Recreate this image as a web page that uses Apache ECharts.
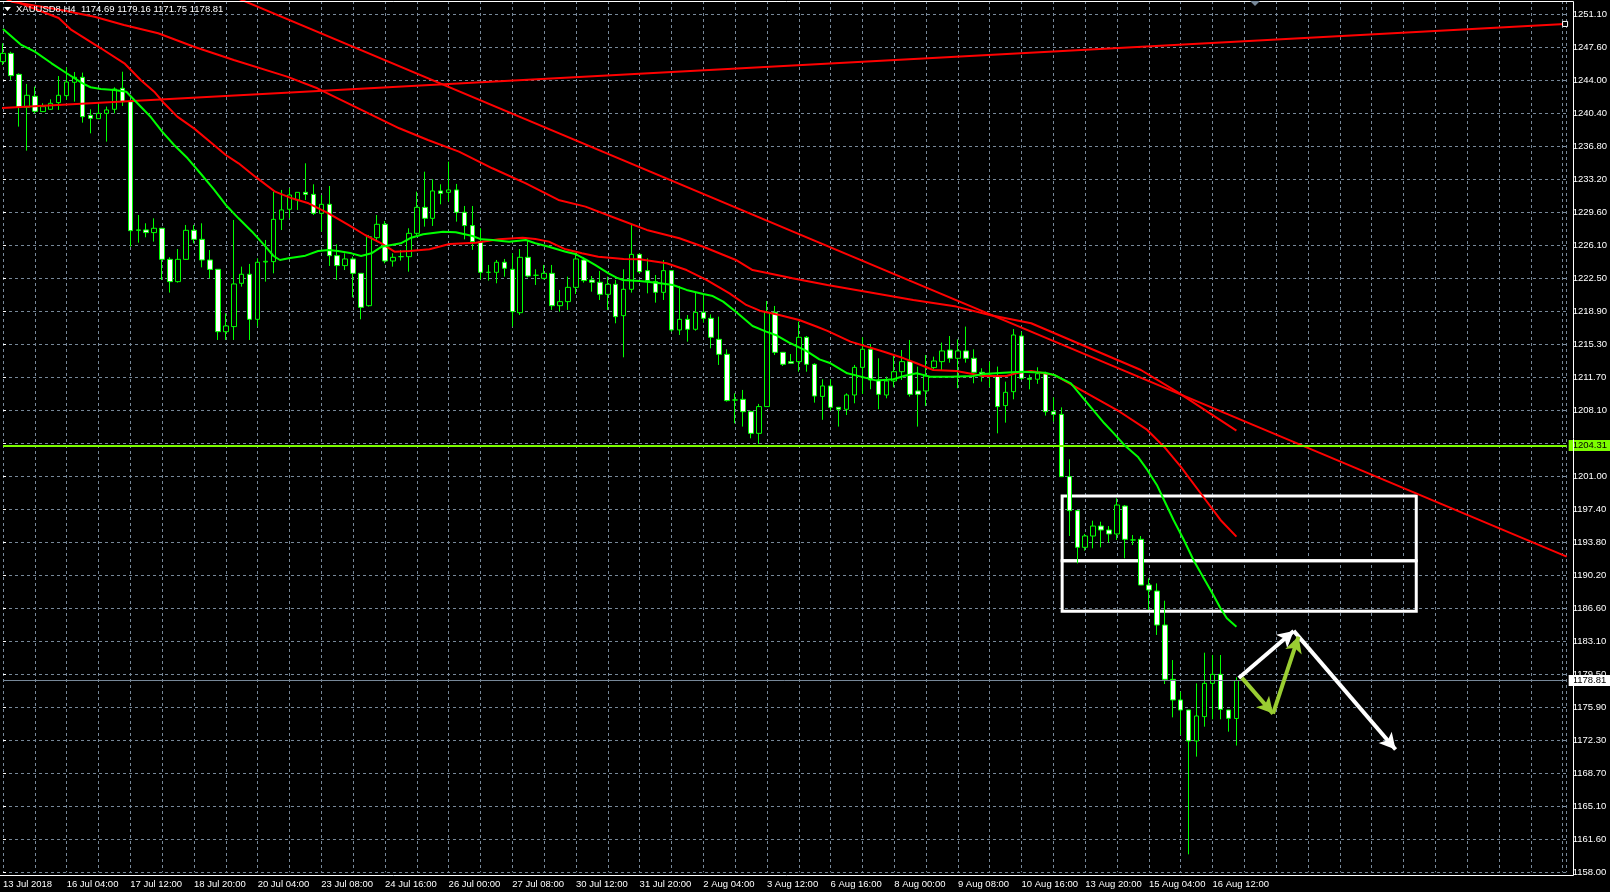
<!DOCTYPE html>
<html><head><meta charset="utf-8">
<script src="https://cdn.jsdelivr.net/npm/echarts@6/dist/echarts.min.js"></script>
<style>html,body{margin:0;padding:0;background:#000;overflow:hidden}#c{width:1610px;height:892px}</style>
</head><body><div id="c"></div>
<script>
// ---------- data ----------
const xLabels = ["13 Jul 2018","16 Jul 04:00","17 Jul 12:00","18 Jul 20:00","20 Jul 04:00","23 Jul 08:00","24 Jul 16:00","26 Jul 00:00","27 Jul 08:00","30 Jul 12:00","31 Jul 20:00","2 Aug 04:00","3 Aug 12:00","6 Aug 16:00","8 Aug 00:00","9 Aug 08:00","10 Aug 16:00","13 Aug 20:00","15 Aug 04:00","16 Aug 12:00"];
const yLabels = ["1158.00","1161.60","1165.10","1168.70","1172.30","1175.90","1179.50","1183.10","1186.60","1190.20","1193.80","1197.40","1201.00","1204.50","1208.10","1211.70","1215.30","1218.90","1222.50","1226.10","1229.60","1233.20","1236.80","1240.40","1244.00","1247.60","1251.10"];
const Y_MIN = 1158.0, Y_STEP = 93.1 / 26, Y_MAX = 1252.54;

const opens = [1245.96,1246.86,1244.58,1241.00,1242.20,1240.54,1240.79,1241.51,1242.27,1243.72,1244.26,1240.14,1239.77,1240.35,1240.79,1243.07,1241.62,1227.66,1227.70,1227.41,1227.88,1224.51,1222.09,1224.51,1227.66,1226.68,1224.44,1223.43,1216.66,1217.21,1221.91,1222.89,1218.00,1224.22,1224.26,1228.85,1229.94,1230.95,1231.78,1231.56,1229.50,1230.48,1224.91,1223.83,1224.55,1222.99,1219.48,1226.86,1228.31,1224.33,1224.80,1224.80,1227.33,1230.15,1228.96,1231.93,1231.78,1232.04,1229.61,1228.17,1226.43,1223.10,1223.10,1224.19,1223.43,1218.72,1224.73,1222.78,1222.45,1222.99,1219.48,1219.92,1221.47,1224.44,1222.27,1222.02,1220.71,1221.80,1218.40,1221.26,1225.05,1223.28,1222.09,1220.93,1223.28,1216.85,1218.00,1216.92,1218.76,1218.11,1215.83,1214.20,1209.25,1209.32,1207.98,1205.63,1208.53,1218.76,1214.42,1213.41,1213.41,1216.05,1213.12,1209.64,1210.77,1208.45,1208.24,1209.79,1212.79,1214.75,1211.42,1209.79,1211.31,1212.32,1213.41,1210.23,1210.23,1212.76,1213.41,1214.67,1213.77,1214.57,1213.77,1212.25,1211.93,1211.85,1208.64,1210.15,1216.19,1211.60,1211.50,1212.14,1207.98,1207.69,1200.93,1197.24,1193.26,1194.49,1195.57,1195.14,1194.71,1197.74,1194.06,1194.13,1189.17,1188.52,1184.83,1178.94,1176.70,1175.61,1172.25,1174.89,1178.50,1179.48,1175.61,1174.69];
const closes = [1246.86,1244.44,1241.00,1242.31,1240.57,1241.08,1241.44,1242.31,1243.75,1244.26,1239.99,1239.81,1240.35,1240.72,1242.99,1241.62,1227.62,1227.70,1227.41,1227.88,1224.51,1222.09,1224.51,1227.66,1226.68,1224.44,1223.42,1216.66,1217.28,1221.84,1222.89,1218.00,1224.19,1224.30,1228.85,1229.87,1231.49,1231.78,1231.56,1229.50,1230.48,1224.91,1223.83,1224.55,1222.99,1219.30,1226.97,1228.31,1224.33,1224.73,1224.80,1227.33,1230.15,1228.96,1231.93,1231.67,1232.04,1229.61,1228.17,1226.43,1223.10,1223.10,1224.19,1223.54,1218.83,1224.73,1222.70,1222.78,1222.99,1219.48,1219.92,1221.47,1224.55,1222.20,1222.02,1220.71,1221.80,1218.29,1221.26,1225.05,1223.17,1222.20,1220.93,1223.28,1216.85,1218.00,1216.92,1218.76,1218.11,1216.05,1214.20,1209.18,1209.25,1207.98,1205.63,1208.53,1218.76,1214.42,1213.12,1213.23,1216.05,1213.12,1209.68,1210.77,1208.45,1208.24,1209.79,1212.79,1214.75,1211.42,1209.86,1211.31,1212.32,1213.41,1209.86,1209.86,1211.85,1213.48,1214.57,1213.77,1214.57,1213.77,1212.25,1211.85,1211.93,1208.53,1210.08,1216.30,1211.60,1211.49,1212.10,1207.98,1207.69,1200.93,1197.24,1193.26,1194.49,1195.57,1195.14,1194.71,1197.85,1194.13,1194.06,1189.17,1188.63,1184.83,1178.94,1176.70,1175.61,1172.25,1174.96,1178.50,1179.48,1175.68,1174.71,1178.81];
const lows = [1245.60,1243.97,1238.91,1236.30,1240.35,1240.54,1240.72,1240.72,1241.80,1241.62,1239.34,1238.18,1239.77,1237.28,1240.35,1241.15,1225.89,1226.32,1226.90,1226.43,1222.27,1220.90,1221.98,1224.44,1226.25,1223.64,1222.45,1215.76,1215.76,1215.76,1221.55,1215.76,1217.21,1222.09,1222.99,1227.69,1228.96,1229.87,1230.95,1229.32,1227.51,1223.79,1222.27,1223.35,1220.39,1218.00,1219.38,1226.61,1224.08,1223.72,1224.37,1223.17,1227.15,1228.06,1228.13,1230.48,1230.77,1228.60,1226.68,1225.53,1222.34,1222.20,1221.91,1222.63,1217.21,1218.47,1222.56,1221.73,1222.34,1219.02,1218.83,1219.02,1220.75,1221.98,1221.00,1220.10,1219.02,1217.57,1213.88,1220.90,1222.99,1220.82,1219.81,1220.10,1216.66,1216.30,1215.58,1216.77,1217.64,1214.86,1213.05,1209.07,1206.72,1206.36,1205.09,1204.48,1208.53,1214.13,1212.94,1213.23,1212.32,1212.32,1208.96,1207.10,1208.09,1206.36,1207.62,1208.89,1209.90,1210.41,1208.24,1209.43,1210.62,1211.42,1209.61,1206.36,1208.60,1212.58,1212.50,1213.30,1210.52,1213.30,1211.06,1211.24,1210.62,1205.63,1206.79,1209.32,1211.42,1210.40,1211.00,1207.55,1206.89,1200.93,1194.49,1191.52,1192.90,1193.15,1193.26,1193.77,1194.06,1192.07,1193.51,1189.17,1186.46,1183.75,1178.43,1174.81,1172.90,1159.95,1170.55,1173.80,1174.60,1174.60,1173.26,1171.75];
const highs = [1247.95,1247.04,1244.69,1243.54,1243.25,1241.44,1241.87,1244.40,1245.35,1244.84,1244.77,1240.79,1241.37,1241.08,1243.17,1244.87,1241.73,1229.32,1228.42,1228.96,1227.88,1224.73,1225.63,1228.24,1228.24,1228.42,1225.52,1223.43,1218.65,1228.78,1223.72,1224.01,1224.62,1226.61,1231.85,1232.04,1232.22,1231.78,1234.93,1232.65,1231.49,1232.47,1226.14,1225.16,1224.80,1222.99,1227.15,1229.32,1228.67,1225.16,1225.53,1227.88,1231.85,1234.02,1233.19,1232.65,1235.11,1232.69,1230.30,1230.30,1227.88,1223.90,1224.44,1224.55,1225.16,1225.63,1226.61,1223.43,1223.90,1223.90,1221.19,1222.63,1225.16,1224.73,1222.70,1223.25,1222.63,1222.27,1223.43,1228.24,1225.16,1224.62,1222.81,1224.44,1223.35,1221.62,1218.47,1220.90,1220.64,1218.54,1218.29,1214.75,1209.97,1210.34,1208.09,1208.82,1219.99,1219.45,1214.42,1214.24,1217.75,1216.19,1213.23,1211.49,1211.49,1208.45,1209.97,1213.05,1216.05,1215.33,1213.77,1211.78,1214.13,1214.67,1215.76,1212.87,1214.13,1213.95,1215.47,1216.19,1215.83,1217.21,1214.75,1212.69,1213.41,1212.87,1211.24,1216.95,1216.66,1212.00,1212.80,1212.32,1209.53,1208.45,1202.81,1197.24,1194.71,1196.15,1196.04,1195.57,1198.58,1197.85,1194.60,1194.49,1189.90,1189.35,1187.47,1181.03,1177.60,1175.61,1178.50,1181.83,1181.58,1181.58,1175.61,1179.16];

// moving averages: [bar, price]
const maFastGreen = [[0,1249.5],[2.3,1247.77],[4,1247.04],[6.1,1245.78],[8,1244.70],[10,1243.61],[11,1243.18],[12.3,1243.0],[14,1242.89],[15.5,1242.70],[16.5,1241.8],[18.6,1239.92],[20,1238.36],[21.5,1236.92],[23.2,1235.47],[24.8,1233.85],[26.5,1232.11],[28,1230.41],[29.6,1228.96],[31.3,1227.51],[33,1225.88],[34,1224.87],[34.8,1224.44],[35.9,1224.62],[38,1224.91],[39.6,1225.41],[40.9,1225.52],[42.1,1225.41],[43.8,1225.16],[45,1224.87],[46.3,1225.16],[47.6,1225.88],[48.8,1226.07],[50,1226.25],[51.3,1226.86],[52.8,1227.23],[55.3,1227.51],[56.9,1227.44],[59,1227.04],[60.1,1226.68],[61.5,1226.61],[63.6,1226.43],[65.7,1226.61],[66.9,1226.25],[68.6,1225.88],[70.7,1225.34],[71.9,1225.09],[73.2,1224.51],[74.4,1223.90],[76.1,1222.99],[77.1,1222.52],[77.9,1222.27],[80,1222.16],[82.1,1221.98],[84.2,1221.73],[85.9,1221.19],[88,1220.75],[89.2,1220.53],[90.5,1219.92],[92.1,1218.83],[94.2,1217.28],[95.9,1216.66],[97.1,1216.30],[98.8,1215.47],[100.9,1214.60],[102.6,1213.66],[104,1213.23],[106.1,1212.14],[107.8,1211.78],[109.8,1211.35],[111.9,1211.49],[113.2,1211.85],[114.8,1212.14],[116.5,1211.78],[119,1211.78],[121.9,1211.85],[123.2,1212.07],[125.7,1212.21],[128,1212.32],[130.9,1212.21],[132.1,1211.96],[134.2,1211.06],[136.3,1208.89],[138.4,1206.72],[139.6,1205.63],[140.9,1204.37],[142.6,1203.10],[143.8,1201.66],[145,1200.03],[145.9,1198.40],[147.1,1196.23],[148.4,1194.06],[149.6,1191.89],[150.9,1189.90],[152.1,1188.09],[153,1186.65],[153.8,1185.56],[155,1184.65]];
const maMidRed = [[2.1,1252.32],[7,1250.70],[8.6,1249.40],[12.3,1247.41],[15.25,1245.78],[17.3,1243.97],[19,1242.70],[20.25,1241.44],[21.9,1239.99],[24,1238.72],[26.5,1236.92],[28,1235.83],[29.6,1234.93],[31.7,1233.48],[34.2,1231.85],[36.3,1231.13],[38.4,1230.59],[40.9,1229.50],[43.4,1228.24],[45.5,1227.15],[47.55,1226.25],[49.2,1225.34],[51.1,1225.41],[53.6,1225.60],[56.1,1226.18],[59.4,1226.32],[62.3,1226.68],[65.3,1226.86],[66.9,1226.72],[68.6,1226.43],[70.7,1225.60],[72.75,1225.16],[74.8,1224.80],[78,1224.55],[80,1224.51],[83.4,1224.08],[85.9,1223.35],[88.4,1222.27],[91.3,1220.82],[93.4,1219.56],[95.1,1218.94],[97.55,1218.47],[100.05,1217.93],[102.3,1217.20],[103.6,1216.74],[106.5,1215.58],[110.7,1214.49],[113.2,1213.77],[114.8,1213.23],[116.9,1212.50],[119.8,1212.40],[123.2,1211.85],[126.1,1211.85],[127.3,1212.14],[129.2,1212.40],[132.1,1211.96],[135.5,1210.33],[140,1208.16],[143.8,1206.0],[145.9,1204.18],[148,1202.01],[150.5,1199.13],[153,1196.23],[155,1194.42]];
const maSlowRed = [[0,1252.9],[1.1,1252.47],[7.3,1251.56],[11.5,1250.84],[15.2,1249.94],[19.5,1249.04],[24,1247.58],[29,1246.14],[35.7,1244.33],[39.5,1243.07],[49.8,1238.73],[53.4,1237.46],[57.3,1236.19],[61.5,1234.39],[65.7,1232.76],[69.8,1230.95],[73.2,1230.23],[77.6,1228.78],[80.9,1227.70],[85,1226.79],[88,1225.88],[92.1,1224.44],[94.2,1223.35],[95.9,1223.06],[99.2,1222.45],[103.6,1221.73],[114.4,1220.10],[119.8,1219.38],[124,1218.47],[129.2,1217.57],[143,1212.50],[147.5,1210.15],[155,1205.92]];

// trend lines [bar, price]
const trendUp = [[-0.16,1240.94],[196.3,1250.05]];
const trendDown = [[0,1263.53],[196.5,1192.25]];
// horizontal levels
const supportLevel = 1204.31;
const lastPrice = 1178.81;
// boxes: bar span and price edges
const boxBars = [133.1, 177.6];
const boxEdges = [1198.83, 1191.81, 1186.33];
// hand-drawn arrows [[from],[to]]
const whiteArrows = [[[155.3,1179.09],[162.2,1184.19]],[[162.2,1184.19],[175.0,1171.33]]];
const greenArrows = [[[155.7,1179.09],[159.6,1175.22]],[[159.6,1175.22],[162.8,1183.58]]];
const headerText = "XAUUSD8,H4  1174.69 1179.16 1171.75 1178.81";

// ---------- chart ----------
const FONT = 'Liberation Sans';
const chart = echarts.init(document.getElementById('c'), null, {renderer: 'canvas'});
const candleData = opens.map((o, i) => [i, o, closes[i], lows[i], highs[i]]);
const gridLine = {show: true, lineStyle: {color: '#778899', type: [3, 3], width: 1}};
const lineSeries = (data, color, z) => ({
  type: 'line', data, showSymbol: false, smooth: false, z,
  lineStyle: {color, width: 2}, itemStyle: {color}, animation: false, silent: true
});

const arrowLines = (arr, color) => arr.map(a => [
  {coord: a[0], symbol: 'none', lineStyle: {color, width: 4}},
  {coord: a[1], symbol: 'arrow', symbolSize: [13, 16]}
]);

const option = {
  backgroundColor: '#000',
  animation: false,
  grid: {left: 1.3, right: 36.7, top: 1, bottom: 19.7, show: false},
  xAxis: {
    type: 'value', min: 0, max: 196.5, interval: 4,
    axisLine: {show: false}, axisTick: {show: false},
    splitLine: gridLine,
    axisLabel: {
      color: '#fff', fontSize: 9.5, fontFamily: FONT, align: 'left', margin: 7,
      showMaxLabel: false,
      formatter: v => {
        const k = Math.round(v);
        if (Math.abs(v - k) > 1e-6 || k % 8 !== 0) return '';
        return xLabels[k / 8] || '';
      }
    }
  },
  yAxis: {
    type: 'value', position: 'right', min: Y_MIN, max: Y_MAX, interval: Y_STEP, scale: true,
    axisLine: {show: false},
    axisTick: {show: true, length: 3, lineStyle: {color: '#fff'}},
    splitLine: gridLine,
    axisLabel: {
      color: '#fff', fontSize: 9.5, fontFamily: FONT, margin: 6,
      formatter: v => {
        const k = Math.round((v - Y_MIN) / Y_STEP);
        if (Math.abs(v - (Y_MIN + k * Y_STEP)) > 0.01) return '';
        return yLabels[k] || '';
      }
    }
  },
  series: [
    {
      type: 'candlestick', data: candleData, encode: {x: 0, y: [1, 2, 3, 4]},
      barWidth: 5, z: 3, silent: true,
      itemStyle: {color: '#000', color0: '#fff', borderColor: '#00ff00', borderColor0: '#00ff00', borderColorDoji: '#00ff00', borderWidth: 1}
    },
    lineSeries(maSlowRed, '#ff0000', 4),
    lineSeries(maMidRed, '#ff0000', 4),
    lineSeries(maFastGreen, '#00ff00', 5),
    lineSeries(trendDown, '#ff0000', 4),
    Object.assign(lineSeries(trendUp, '#ff0000', 4), {
      showSymbol: true, showAllSymbol: true, symbol: 'rect', symbolSize: 5,
      itemStyle: {color: '#000', borderColor: '#fff', borderWidth: 1}
    }),
    {
      type: 'line', data: [], z: 6, clip: false, silent: true,
      markArea: {
        silent: true,
        itemStyle: {color: 'rgba(0,0,0,0)', borderColor: '#fff', borderWidth: 3},
        data: [
          [{coord: [boxBars[0], boxEdges[0]]}, {coord: [boxBars[1], boxEdges[1]]}],
          [{coord: [boxBars[0], boxEdges[1]]}, {coord: [boxBars[1], boxEdges[2]]}]
        ]
      },
      markLine: {
        silent: true, symbol: ['none', 'none'], animation: false,
        data: [
          {yAxis: supportLevel, lineStyle: {color: '#7cfc00', width: 2, type: 'solid'},
           label: {show: true, position: 'end', distance: 2, formatter: supportLevel.toFixed(2), color: '#000', backgroundColor: '#7cfc00', fontSize: 9.5, fontFamily: FONT, padding: [1, 8, 0, 4], lineHeight: 10}},
          {yAxis: lastPrice, lineStyle: {color: '#778899', width: 1, type: 'solid'},
           label: {show: true, position: 'end', distance: 2, formatter: lastPrice.toFixed(2), color: '#000', backgroundColor: '#fff', fontSize: 9.5, fontFamily: FONT, padding: [1, 8, 0, 4], lineHeight: 10}}
        ]
      }
    },
    {
      type: 'line', data: [], z: 8, silent: true,
      markLine: {
        silent: true, animation: false, label: {show: false},
        lineStyle: {type: 'solid', width: 4},
        data: arrowLines(whiteArrows, '#ffffff').concat(arrowLines(greenArrows, '#9acd32'))
      }
    }
  ],
  graphic: [
    {type: 'polyline', shape: {points: [[0, 1.5], [1573.5, 1.5], [1573.5, 875.5], [0, 875.5]]}, style: {stroke: '#fff', lineWidth: 1, fill: null}, z: 90, silent: true},
    {type: 'polygon', shape: {points: [[4, 7], [11, 7], [7.5, 11]]}, style: {fill: '#fff'}, z: 100},
    {type: 'text', x: 16, y: 9.5, style: {text: headerText, fill: '#fff', font: '9.5px ' + FONT, textVerticalAlign: 'middle'}, z: 100},
    {type: 'polygon', shape: {points: [[1250, 1], [1260, 1], [1255, 6]]}, style: {fill: '#778899'}, z: 100}
  ]
};
chart.setOption(option);
</script></body></html>
